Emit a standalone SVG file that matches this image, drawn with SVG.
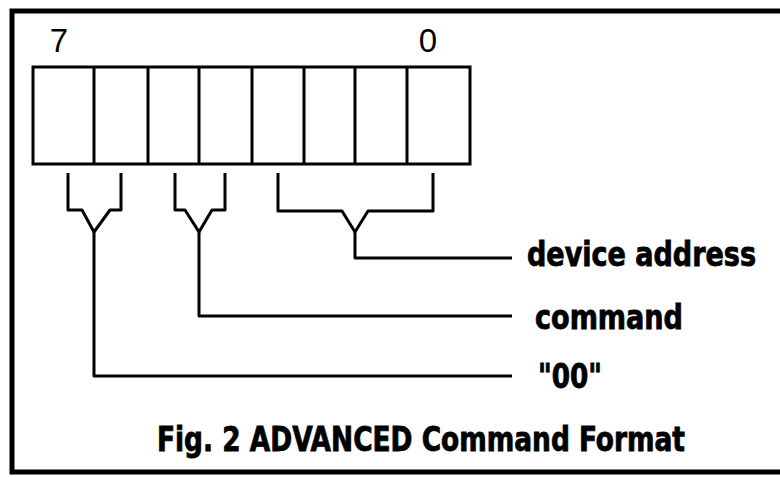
<svg xmlns="http://www.w3.org/2000/svg" width="780" height="477" viewBox="0 0 780 477">
<style>
.frame{fill:none;stroke:#000;stroke-width:5}
.cell{fill:#fff;stroke:#000;stroke-width:3}
.conn{fill:none;stroke:#000;stroke-width:3;stroke-linejoin:round;stroke-linecap:butt}
.num{font-family:"Liberation Sans",Arial,sans-serif;font-size:33px;fill:#000}
.lbl{font-family:"DejaVu Sans Condensed","DejaVu Sans",sans-serif;font-stretch:condensed;font-weight:bold;font-size:33px;fill:#000;stroke:#000;stroke-width:0.8}
</style>
<rect width="780" height="477" fill="#fff"/>
<g id="frame">
<path class="frame" d="M782,11 H12 V472 H782"/>
</g>
<g id="register">
<rect class="cell" x="33" y="67" width="437" height="97"/>
<path class="conn" d="M94,67V164M148,67V164M199,67V164M252,67V164M304,67V164M355,67V164M407,67V164"/>
<text class="num" x="59" y="52" text-anchor="middle">7</text>
<text class="num" x="428" y="52" text-anchor="middle">0</text>
</g>
<g id="connectors">
<path class="conn" d="M68,173 V210 H82 L94,232 L110,210 H121 V173"/>
<path class="conn" d="M94,232 V376 H512"/>
<path class="conn" d="M175,173 V210 H185 L199,232 L212,210 H225 V173"/>
<path class="conn" d="M199,232 V316 H512"/>
<path class="conn" d="M278,173 V211 H342 L355,232 L368,211 H433 V173"/>
<path class="conn" d="M355,232 V258 H512"/>
</g>
<g id="label-device-address">
<text class="lbl" x="527" y="266" textLength="229" lengthAdjust="spacingAndGlyphs">device address</text>
</g>
<g id="label-command">
<text class="lbl" x="535" y="329" textLength="148" lengthAdjust="spacingAndGlyphs">command</text>
</g>
<g id="label-00">
<text class="lbl" x="538" y="388" textLength="64" lengthAdjust="spacingAndGlyphs">"00"</text>
</g>
<g id="caption">
<text class="lbl" x="157" y="451" textLength="528" lengthAdjust="spacingAndGlyphs">Fig. 2 ADVANCED Command Format</text>
</g>
</svg>
